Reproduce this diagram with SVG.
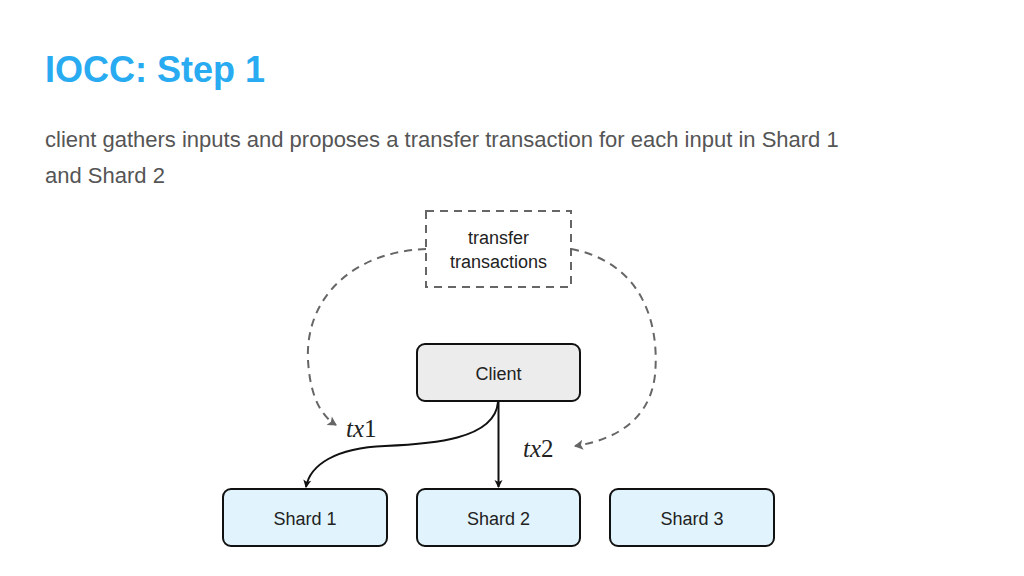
<svg xmlns="http://www.w3.org/2000/svg" width="1024" height="576" viewBox="0 0 1024 576">
<defs>
<style>
.node{stroke:#111;stroke-width:2}
.lbl{font-family:"Liberation Sans",Arial,sans-serif;font-size:18px;fill:#222;text-anchor:middle}
.math{font-family:"Liberation Serif","Times New Roman",serif;font-style:italic;font-size:25px;fill:#222}
.dash{fill:none;stroke:#666;stroke-width:2;stroke-dasharray:8 6}
.solid{fill:none;stroke:#111;stroke-width:2}
</style>
<marker id="ab" markerWidth="10" markerHeight="10" refX="8" refY="5" orient="auto" markerUnits="userSpaceOnUse"><path d="M1,1 L9,5 L1,9 L3,5 Z" fill="#111"/></marker>
<marker id="ag" markerWidth="12" markerHeight="12" refX="9" refY="6" orient="auto" markerUnits="userSpaceOnUse"><path d="M1,1 L10,6 L1,11 L3,6 Z" fill="#666"/></marker>
</defs>
<rect width="1024" height="576" fill="#fff"/>
<text x="45" y="82" font-family="Liberation Sans,Arial,sans-serif" font-size="36" font-weight="bold" fill="#29abf2">IOCC: Step 1</text>
<text font-family="Liberation Sans,Arial,sans-serif" font-size="22" fill="#555"><tspan x="45" y="147">client gathers inputs and proposes a transfer transaction for each input in Shard 1</tspan><tspan x="45" y="183">and Shard 2</tspan></text>
<g id="transfer"><rect x="426" y="211" width="145" height="76" fill="none" stroke="#666" stroke-width="2" stroke-dasharray="8 6"/><text class="lbl" x="498.5" y="244">transfer</text><text class="lbl" x="498.5" y="268">transactions</text></g>
<g id="client"><rect class="node" x="417" y="344" width="163" height="57" rx="8" fill="#ececec"/><text class="lbl" x="498.5" y="380">Client</text></g>
<g id="shard1"><rect class="node" x="223" y="489" width="164" height="57" rx="8" fill="#e1f4fd"/><text class="lbl" x="305" y="525">Shard 1</text></g>
<g id="shard2"><rect class="node" x="417" y="489" width="163" height="57" rx="8" fill="#e1f4fd"/><text class="lbl" x="498.5" y="525">Shard 2</text></g>
<g id="shard3"><rect class="node" x="610" y="489" width="164" height="57" rx="8" fill="#e1f4fd"/><text class="lbl" x="692" y="525">Shard 3</text></g>
<g id="connectors">
<path class="dash" d="M426,249 C350,252 305,300 308,360 C310,395 320,415 336,425" marker-end="url(#ag)"/>
<path class="dash" d="M571,249 C640,262 660,320 655,375 C650,420 615,440 575,446" marker-end="url(#ag)"/>
<path class="solid" d="M498,402 C495,440 430,444 385,446 C335,448 310,465 306,487" marker-end="url(#ab)"/>
<path class="solid" d="M498.5,402 L498.5,487" marker-end="url(#ab)"/>
</g>
<text class="math" x="346" y="437">tx<tspan font-style="normal">1</tspan></text>
<text class="math" x="523" y="457">tx<tspan font-style="normal">2</tspan></text>
</svg>
